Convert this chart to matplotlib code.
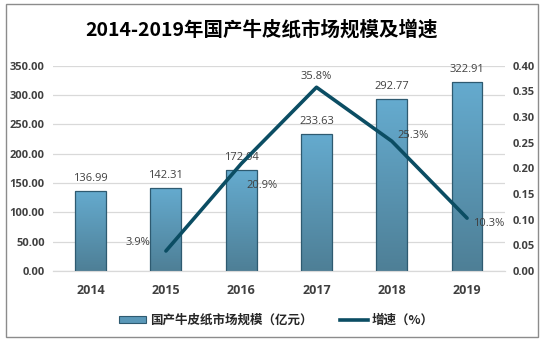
import matplotlib
matplotlib.use("Agg")
import matplotlib.pyplot as plt
import numpy as np
from matplotlib.colors import LinearSegmentedColormap
from matplotlib.patches import Rectangle
from matplotlib.lines import Line2D
from matplotlib.patches import Patch

plt.rcParams['font.family'] = ['Open Sans', 'Noto Sans CJK SC', 'DejaVu Sans']

years = ["2014", "2015", "2016", "2017", "2018", "2019"]
market_size = [136.99, 142.31, 172.04, 233.63, 292.77, 322.91]
growth = [None, 0.039, 0.209, 0.358, 0.253, 0.103]
growth_labels = ["", "3.9%", "20.9%", "35.8%", "25.3%", "10.3%"]
left_ticks = [0, 50, 100, 150, 200, 250, 300, 350]
right_ticks = [0.0, 0.05, 0.10, 0.15, 0.20, 0.25, 0.30, 0.35, 0.40]
title = "2014-2019年国产牛皮纸市场规模及增速"
legend_bar = "国产牛皮纸市场规模（亿元）"
legend_line = "增速（%）"

W, H = 543, 346
fig = plt.figure(figsize=(W / 100, H / 100), dpi=100)
fig.patch.set_facecolor("white")

# frame
fig.add_artist(Rectangle((6 / W, 1 - 337 / H), (538 - 6) / W, (337 - 4) / H,
                         transform=fig.transFigure, fill=False,
                         edgecolor="#8c8c8c", linewidth=1.0))

ax = fig.add_axes([53 / W, 1 - 271 / H, (504.7 - 53) / W, (271 - 65.7) / H])
ax2 = ax.twinx()

x = np.arange(len(years))
bw = 0.41
cmap = LinearSegmentedColormap.from_list("bar", ["#4e7f96", "#65abcf"])
grad = np.linspace(0, 1, 256).reshape(-1, 1)
bars = ax.bar(x, market_size, width=bw, color="none", edgecolor="#2e5a70",
              linewidth=0.9, zorder=3)
for b in bars:
    x0, y0 = b.get_x(), b.get_y()
    w, h = b.get_width(), b.get_height()
    im = ax.imshow(grad, cmap=cmap, origin="lower", aspect="auto",
                   extent=(x0, x0 + w, y0, y0 + h), zorder=2)
    im.set_clip_path(b)

ax.set_xlim(-0.5, len(years) - 0.5)
ax.set_ylim(0, 350)
ax.set_yticks(left_ticks)
ax.set_yticklabels([f"{v:.2f}" for v in left_ticks], fontsize=8,
                   fontweight="bold", color="#404040")
ax.set_xticks(x)
ax.set_xticklabels(years, fontsize=9, fontweight="bold", color="#404040")
ax.tick_params(axis="both", length=0)
ax.tick_params(axis="x", pad=9)
ax.tick_params(axis="y", pad=6)
ax.grid(axis="y", color="#d9d9d9", linewidth=0.9, zorder=0)
ax.set_axisbelow(True)
for s in ["top", "right", "left"]:
    ax.spines[s].set_visible(False)
ax.spines["bottom"].set_color("#d9d9d9")
ax.spines["bottom"].set_linewidth(0.9)

for xi, v in zip(x, market_size):
    ax.annotate(f"{v:.2f}", (xi, v), xytext=(0, 5), textcoords="offset points",
                ha="center", va="bottom", fontsize=8, color="#404040", zorder=5)

gx = [xi for xi, g in zip(x, growth) if g is not None]
gy = [g for g in growth if g is not None]
ax2.plot(gx, gy, color="#0b4d63", linewidth=2.6, solid_capstyle="round",
         solid_joinstyle="round", zorder=6)
ax2.set_ylim(0, 0.40)
ax2.set_yticks(right_ticks)
ax2.set_yticklabels([f"{v:.2f}" for v in right_ticks], fontsize=8,
                    fontweight="bold", color="#404040")
ax2.tick_params(axis="y", length=0, pad=6)
for s in ["top", "right", "left", "bottom"]:
    ax2.spines[s].set_visible(False)

offsets = {1: (-20, 6, "center"), 2: (4, -16, "left"), 3: (0, 8, "center"),
           4: (4, 4, "left"), 5: (4, -4, "left")}
for i, g in enumerate(growth):
    if g is None:
        continue
    dx, dy, ha = offsets[i]
    ax2.annotate(growth_labels[i], (x[i], g), xytext=(dx, dy),
                 textcoords="offset points", ha=ha, va="center",
                 fontsize=8, color="#404040", zorder=7)

fig.text(262 / W, 1 - 30 / H, title, fontsize=14, fontweight="bold",
         ha="center", va="center", color="black",
         family=["Noto Sans CJK SC", "DejaVu Sans"])

handles = [Patch(facecolor="#5a98b8", edgecolor="#2e5a70", linewidth=0.8),
           Line2D([0], [0], color="#0b4d63", linewidth=2.6)]
leg = fig.legend(handles, [legend_bar, legend_line], loc="center",
                 bbox_to_anchor=(276 / W, 1 - 320 / H), ncol=2, frameon=False,
                 prop={"family": ["Noto Sans CJK SC"], "weight": "bold", "size": 9},
                 handlelength=2.2, handleheight=0.5, handletextpad=0.3,
                 columnspacing=2.2)
for t in leg.get_texts():
    t.set_color("#262626")

fig.savefig("out.png", dpi=100)
